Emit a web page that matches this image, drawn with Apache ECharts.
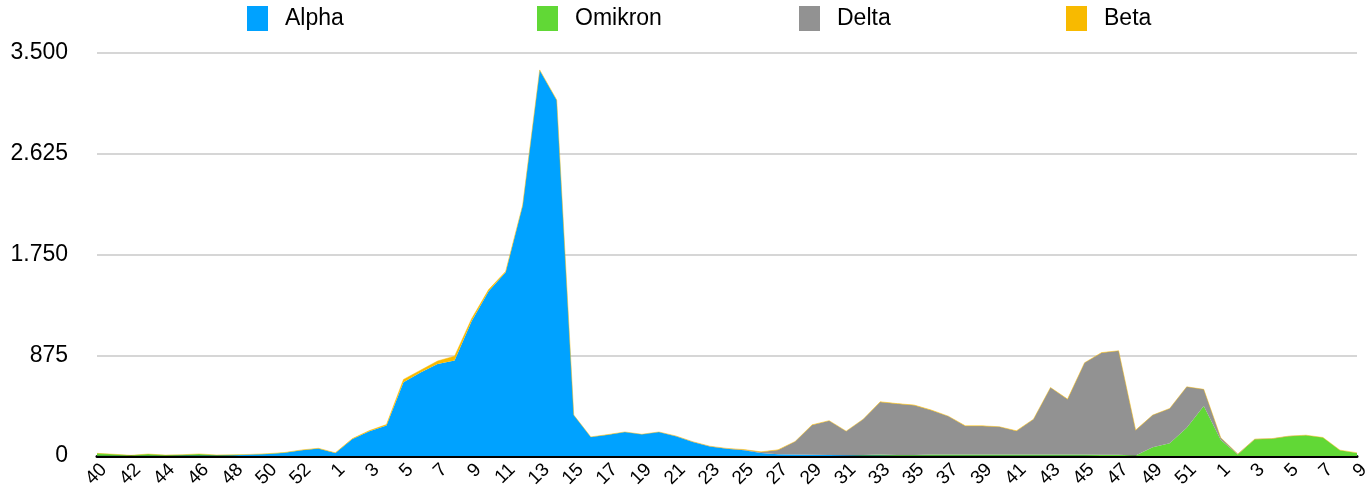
<!DOCTYPE html>
<html>
<head>
<meta charset="utf-8">
<title>Varianten</title>
<script src="https://cdn.jsdelivr.net/npm/echarts@6/dist/echarts.min.js"></script>
<style>
  html, body { margin: 0; padding: 0; background: #fff; }
  #mydiv { width: 1371px; height: 486px; }
</style>
</head>
<body>
<div id="mydiv"></div>
<script>
// KW 40/2020 bis KW 9/2022
var weeks = ['40','41','42','43','44','45','46','47','48','49','50','51','52','53',
  '1','2','3','4','5','6','7','8','9','10','11','12','13','14','15','16','17','18','19','20',
  '21','22','23','24','25','26','27','28','29','30','31','32','33','34','35','36','37','38','39','40',
  '41','42','43','44','45','46','47','48','49','50','51','52',
  '1','2','3','4','5','6','7','8','9'];

var alpha = [3,3,2,3,3,4,4,5,7,12,18,28,50,65,
  27,148,215,265,640,725,800,830,1170,1430,1595,2175,3350,3090,355,165,185,208,188,208,
  172,122,82,62,50,25,15,12,10,8,6,5,4,3,3,3,2,2,2,2,
  2,2,2,2,2,1,1,1,0,0,0,0,
  0,0,0,0,0,0,0,0,0];

var omikron = [20,12,4,14,5,7,14,4,3,2,2,2,1,1,
  0,0,0,0,0,0,0,0,0,0,0,0,0,0,0,0,0,0,0,0,
  0,0,0,0,0,0,0,0,0,0,0,3,8,5,5,10,12,12,12,10,
  10,10,12,10,10,10,10,3,75,110,246,434,
  140,12,145,150,172,180,160,50,27];

var delta = [0,0,0,0,0,0,0,0,0,0,0,0,0,0,
  0,0,0,0,0,0,0,0,0,0,0,0,0,0,0,0,0,0,0,0,
  1,1,2,3,5,10,38,113,260,298,209,311,458,446,433,385,331,247,247,241,
  206,307,580,481,797,886,902,220,280,303,355,145,
  19,5,2,1,1,1,1,1,1];

var beta = [0,0,0,0,0,0,0,0,0,0,0,0,1,1,
  1,3,6,8,25,20,25,37,22,15,8,5,3,2,1,1,1,1,1,1,
  1,1,1,1,1,1,1,1,1,1,1,1,1,1,1,1,1,1,1,1,
  1,1,1,1,1,1,1,1,0,0,0,0,
  0,0,0,0,0,0,0,0,0];

var yTicks = [0, 875, 1750, 2625, 3500];

// 3500 -> "3.500"
function fmt(v) {
  return String(v).replace(/\B(?=(\d{3})+(?!\d))/g, '.');
}

var echart = echarts.init(document.getElementById('mydiv'));

var names = ['Alpha', 'Omikron', 'Delta', 'Beta'];
var colors = ['#00a2ff', '#61d836', '#929292', '#f8ba00'];
var values = [alpha, omikron, delta, beta];
var legendLeft = [247, 537, 799, 1066];
var font = 'Liberation Sans, Arial, sans-serif';

function legendFor(i) {
  return {
    data: [names[i]],
    left: legendLeft[i],
    top: 6,
    padding: 0,
    icon: 'rect',
    itemWidth: 21,
    itemHeight: 25,
    selectedMode: false,
    textStyle: {
      fontFamily: font,
      fontSize: 23,
      color: '#000',
      padding: [0, 0, 0, 12]
    }
  };
}

var option = {
  animation: false,
  color: colors,
  legend: [legendFor(0), legendFor(1), legendFor(2), legendFor(3)],
  grid: { left: 97, right: 14, top: 53, bottom: 30, containLabel: false, outerBoundsMode: 'none' },
  xAxis: {
    type: 'category',
    data: weeks,
    boundaryGap: false,
    axisLine: { lineStyle: { color: '#000', width: 3 } },
    axisTick: { show: false },
    axisLabel: {
      interval: 1,
      rotate: 45,
      margin: 4,
      verticalAlign: 'top',
      fontFamily: font,
      fontSize: 19,
      color: '#000'
    },
    splitLine: { show: false }
  },
  yAxis: {
    type: 'value',
    min: yTicks[0],
    max: yTicks[yTicks.length - 1],
    interval: yTicks[1] - yTicks[0],
    axisLine: { show: false },
    axisTick: { show: false },
    axisLabel: {
      margin: 29,
      fontFamily: font,
      fontSize: 23,
      color: '#000',
      formatter: fmt
    },
    splitLine: { lineStyle: { color: '#c8c8c8', width: 1.5 } }
  },
  series: names.map(function (n, i) {
    return {
      name: n,
      type: 'line',
      stack: 'all',
      data: values[i],
      symbol: 'none',
      // nur Beta bekommt eine feine Kante
      lineStyle: { width: i === 3 ? 0.8 : 0, color: colors[i], opacity: i === 3 ? 0.6 : 1 },
      areaStyle: { color: colors[i], opacity: 1 }
    };
  })
};

echart.setOption(option);
</script>
</body>
</html>
